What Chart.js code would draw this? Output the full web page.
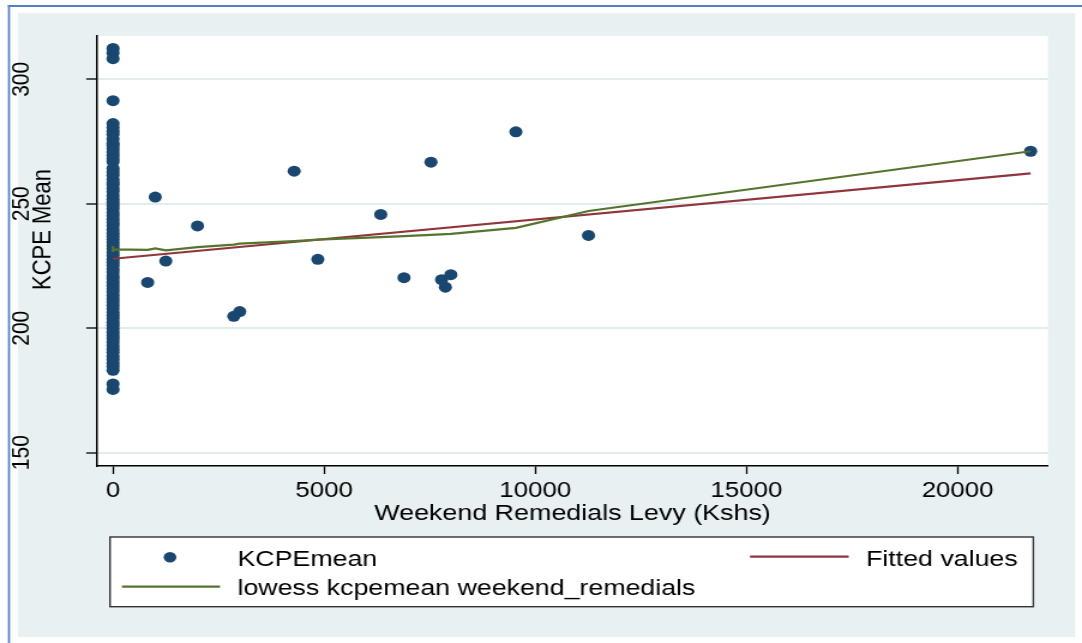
<!DOCTYPE html>
<html>
<head>
<meta charset="utf-8">
<script src="https://cdn.jsdelivr.net/npm/chart.js@4/dist/chart.umd.min.js"></script>
<style>
html,body{margin:0;padding:0;background:#fff;overflow:hidden;}
#wrap{width:902px;height:643px;transform:scaleX(1.19956);transform-origin:0 0;}
canvas{display:block;}
</style>
</head>
<body>
<div id="wrap"><canvas id="c" width="902" height="643" style="width:902px;height:643px"></canvas></div>
<script>
// ---------- data ----------
const xTicks = [0, 5000, 10000, 15000, 20000];
const yTicks = [150, 200, 250, 300];
const xTitle = 'Weekend Remedials Levy (Kshs)';
const yTitle = 'KCPE Mean';
const seriesNames = ['KCPEmean', 'Fitted values', 'lowess kcpemean weekend_remedials'];

// schools with a levy of 0 Kshs (KCPE mean)
const zeroLevyScores = [312.4, 310.6, 308.3, 291.4, 282.2, 280.6, 279.1, 277.9, 276.0, 274.3, 273.5, 272.2,
  270.8, 269.5, 268.1, 266.9, 264.2, 262.8, 261.5, 259.7, 258.4, 257.6, 256.1, 254.9, 253.2, 251.8,
  250.6, 249.3, 248.0, 246.4, 245.2, 243.8, 242.5, 241.3, 239.6, 238.2, 237.0, 235.7, 234.4, 233.1,
  231.9, 230.4, 229.2, 227.7, 226.5, 225.3, 223.8, 222.6, 221.0, 219.9, 218.5, 217.2, 215.8, 214.6,
  213.1, 211.7, 210.5, 209.2, 207.8, 206.3, 205.1, 203.9, 202.4, 201.2, 199.8, 198.4, 197.1, 195.9,
  194.5, 193.0, 191.6, 190.3, 188.7, 187.4, 185.9, 184.6, 183.1, 177.6, 175.4];
// schools with a positive levy
const levyX = [820, 1000, 1250, 2000, 2860, 3000, 4290, 4850, 6340, 6890, 7530, 7780, 7870, 8000, 9540, 11260, 21730];
const levyY = [218.4, 252.7, 227.0, 241.1, 204.8, 206.7, 263.1, 227.7, 245.7, 220.3, 266.7, 219.5, 216.5, 221.5, 278.9, 237.3, 271.1];
// linear fit
const fitX = [0, 21730];
const fitY = [227.9, 262.2];
// lowess smoother
const lowessX = [0, 0, 0, 0, 0, 820, 1000, 1250, 2000, 2860, 3000, 4290, 4850, 6340, 6890, 7530, 7780, 7870, 8000, 9540, 11260, 21730];
const lowessY = [232.9, 230.6, 232.4, 231.1, 231.7, 231.5, 232.1, 231.3, 232.6, 233.6, 234.0, 235.0, 235.6, 236.6, 237.0, 237.5, 237.7, 237.8, 237.9, 240.3, 247.1, 271.1];

// ---------- layout / style ----------
const SX = 1082 / 902;          // horizontal stretch of the picture
const W = 902, H = 643;
const FONT = "'Liberation Sans', Arial, sans-serif";
const NAVY = '#1a476f', MAROON = '#90353b', GREEN = '#55752f';
const BG = '#e8f0f2';

const scoreData = zeroLevyScores.map(v => ({x: 0, y: v}))
  .concat(levyX.map((x, i) => ({x: x, y: levyY[i]})));
const fitData = fitX.map((x, i) => ({x: x, y: fitY[i]}));
const lowessData = lowessX.map((x, i) => ({x: x, y: lowessY[i]}));

const bgPlugin = {
  id: 'bg',
  beforeDraw(chart) {
    const c = chart.ctx, a = chart.chartArea;
    c.save();
    c.fillStyle = '#ffffff';
    c.fillRect(0, 0, W, H);
    c.fillStyle = BG;
    c.fillRect(18 / SX, 13, (1075 - 18) / SX, 637 - 13);
    c.fillStyle = '#4f81bd';
    c.fillRect(8 / SX, 5, W, 2);
    c.fillRect(8 / SX, 5, 2 / SX, H);
    c.fillStyle = '#ffffff';
    c.fillRect(a.left, a.top, a.right - a.left, a.bottom - a.top);
    c.restore();
  }
};

const titlePlugin = {
  id: 'titles',
  afterDraw(chart) {
    const c = chart.ctx, a = chart.chartArea;
    c.save();
    c.fillStyle = '#000';
    c.font = '22.4px ' + FONT;
    c.textAlign = 'center';
    c.textBaseline = 'alphabetic';
    c.fillText(xTitle, (a.left + a.right) / 2, 520);
    c.font = '22px ' + FONT;
    c.translate(41.5, 229.5);
    c.rotate(-Math.PI / 2);
    c.fillText(yTitle, 0, 0);
    c.restore();
  }
};

const legendPlugin = {
  id: 'stataLegend',
  afterDraw(chart) {
    const c = chart.ctx;
    const ds = chart.data.datasets;
    c.save();
    const bx = 110 / SX, bx2 = 1033.3 / SX, by = 537, by2 = 606.7;
    c.fillStyle = '#fff';
    c.fillRect(bx, by, bx2 - bx, by2 - by);
    c.strokeStyle = '#333';
    c.lineWidth = 1.4;
    c.strokeRect(bx, by, bx2 - bx, by2 - by);
    c.font = '22.3px ' + FONT;
    c.fillStyle = '#000';
    c.textAlign = 'left';
    c.textBaseline = 'alphabetic';
    // item 1 : marker
    c.fillStyle = ds[0].backgroundColor;
    c.beginPath();
    c.arc(170 / SX, 557.3, 5.3, 0, Math.PI * 2);
    c.fill();
    c.fillStyle = '#000';
    c.fillText(ds[0].label, 237.5 / SX, 565.5);
    // item 2 : fitted
    c.strokeStyle = ds[1].borderColor;
    c.lineWidth = 2.2;
    c.beginPath();
    c.moveTo(750 / SX, 556.7);
    c.lineTo(848.7 / SX, 556.7);
    c.stroke();
    c.fillText(ds[1].label, 866 / SX, 565.5);
    // item 3 : lowess
    c.strokeStyle = ds[2].borderColor;
    c.beginPath();
    c.moveTo(121.9 / SX, 586.7);
    c.lineTo(220 / SX, 586.7);
    c.stroke();
    c.fillText(ds[2].label, 237.5 / SX, 595);
    c.restore();
  }
};

new Chart(document.getElementById('c'), {
  type: 'scatter',
  data: {
    datasets: [
      {label: seriesNames[0], data: scoreData, backgroundColor: NAVY, borderColor: NAVY, borderWidth: 0,
       pointRadius: 5.5, pointHoverRadius: 5.5, order: 3},
      {label: seriesNames[1], data: fitData, showLine: true, borderColor: MAROON, backgroundColor: MAROON,
       borderWidth: 2.2, pointRadius: 0, tension: 0, order: 2},
      {label: seriesNames[2], data: lowessData, showLine: true, borderColor: GREEN, backgroundColor: GREEN,
       borderWidth: 2.2, pointRadius: 0, tension: 0, order: 1}
    ]
  },
  options: {
    responsive: false,
    animation: false,
    devicePixelRatio: 1,
    events: [],
    layout: {padding: {top: 36, right: W - 1048 / SX, bottom: 0, left: 0}},
    plugins: {legend: {display: false}, tooltip: {enabled: false}},
    scales: {
      x: {
        type: 'linear', min: -379, max: 22141,
        afterBuildTicks: s => { s.ticks = xTicks.map(v => ({value: v})); },
        afterFit: s => { s.height = H - 466; s.paddingLeft = 0; s.paddingRight = 0; },
        grid: {drawOnChartArea: false, drawTicks: true, tickLength: 8, tickColor: '#000', tickWidth: 1.3},
        border: {display: true, color: '#000', width: 1.5},
        ticks: {color: '#000', font: {family: FONT, size: 21.5}, padding: 4, maxRotation: 0, minRotation: 0,
                autoSkip: false, callback: v => String(v)}
      },
      y: {
        type: 'linear', min: 144.65, max: 317.4,
        afterBuildTicks: s => { s.ticks = yTicks.map(v => ({value: v})); },
        afterFit: s => { s.width = 97 / SX; s.paddingTop = 0; s.paddingBottom = 0; },
        grid: {color: '#e3ebee', lineWidth: 2, drawTicks: true, tickLength: 9, tickColor: '#000', tickWidth: 1.3},
        border: {display: true, color: '#000', width: 1.5},
        ticks: {color: '#000', font: {family: FONT, size: 21}, minRotation: 90, maxRotation: 90,
                crossAlign: 'center', padding: 36.4, autoSkip: false, callback: v => String(v)}
      }
    }
  },
  plugins: [bgPlugin, titlePlugin, legendPlugin]
});
</script>
</body>
</html>
